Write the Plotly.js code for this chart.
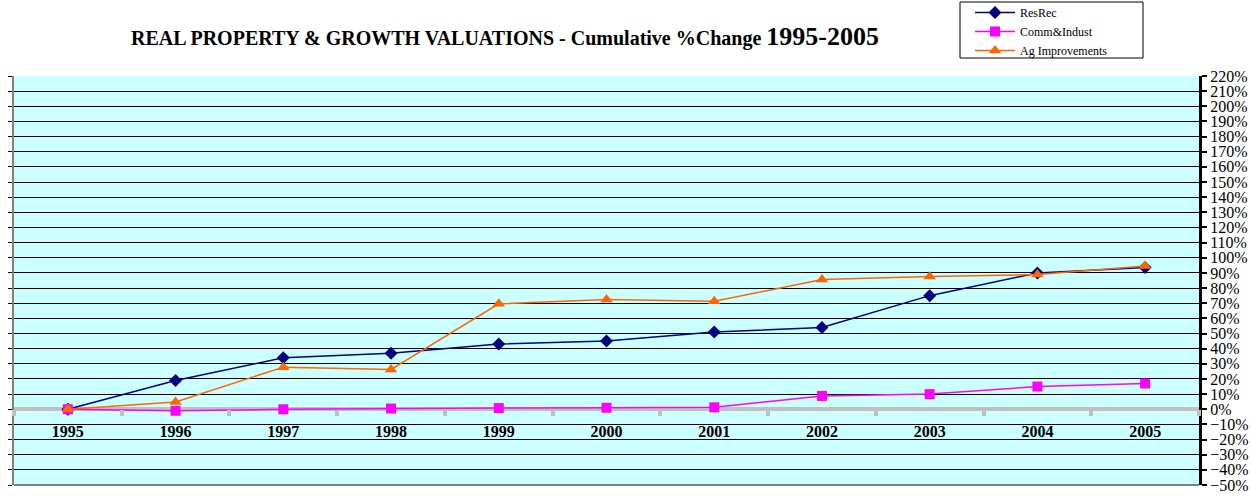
<!DOCTYPE html>
<html><head><meta charset="utf-8">
<script src="https://cdn.plot.ly/plotly-3.0.1.min.js"></script>
<style>html,body{margin:0;padding:0;background:#fff}#chart{width:1251px;height:496px}</style>
</head><body><div id="chart"></div>
<script>
const years = ['1995','1996','1997','1998','1999','2000','2001','2002','2003','2004','2005'];
const resRec = [0, 19, 34, 37, 43, 45, 51, 54, 75, 90, 93.5];
const commIndust = [0, -1, 0, 0.5, 0.8, 1, 1.3, 8.8, 10, 15, 17];
const agImprovements = [0, 4.8, 27.8, 26.3, 69.6, 72.4, 71.3, 85.6, 87.6, 88.9, 94.6];
const seriesNames = ['ResRec', 'Comm&Indust', 'Ag Improvements'];

const serif = "'Liberation Serif', 'Times New Roman', serif";
const px2x = p => (p - 14) / 1185;
const px2y = p => 1 + (76 - p) / 409;

const traces = [
  {x: years, y: resRec, name: seriesNames[0], type: 'scatter', mode: 'lines+markers',
   line: {color: '#000080', width: 1.5}, marker: {symbol: 'diamond', size: 10, color: '#000080'}},
  {x: years, y: commIndust, name: seriesNames[1], type: 'scatter', mode: 'lines+markers',
   line: {color: '#ff00ff', width: 1.5}, marker: {symbol: 'square', size: 10, color: '#ff00ff'}},
  {x: years, y: agImprovements, name: seriesNames[2], type: 'scatter', mode: 'lines+markers',
   line: {color: '#ff6600', width: 1.5}, marker: {symbol: 'triangle-up', size: 11, color: '#ff6600'}},
  {x: [], y: [], yaxis: 'y2', showlegend: false, hoverinfo: 'skip'}
];

const layout = {
  width: 1251, height: 496,
  margin: {l: 14, r: 52, t: 76, b: 11, pad: 0, autoexpand: false},
  paper_bgcolor: '#ffffff', plot_bgcolor: '#ccffff',
  showlegend: true,
  legend: {x: px2x(970), y: px2y(-2), xanchor: 'left', yanchor: 'top', bgcolor: 'rgba(0,0,0,0)',
    borderwidth: 0, font: {family: serif, size: 12, color: '#000'},
    tracegroupgap: 0, itemwidth: 40},
  xaxis: {type: 'category', range: [-0.5, 10.5], anchor: 'free', position: 50/270,
    showgrid: false, showline: false, zeroline: false,
    ticks: 'outside', tickson: 'boundaries', ticklen: 6, tickwidth: 4, tickcolor: '#c0c0c0',
    ticklabelstandoff: 11,
    tickfont: {family: serif, size: 16, color: '#000', weight: 'bold'}},
  yaxis: {range: [-50, 220], side: 'right', dtick: 10, tick0: 0,
    ticksuffix: '%', showgrid: true, gridcolor: '#000000', gridwidth: 1,
    zeroline: true, zerolinecolor: '#c0c0c0', zerolinewidth: 4,
    showline: true, linecolor: '#000000', linewidth: 3,
    ticks: 'outside', ticklen: 5, tickwidth: 2, tickcolor: '#000',
    tickfont: {family: serif, size: 16, color: '#000'}},
  yaxis2: {range: [-50, 220], overlaying: 'y', side: 'left', dtick: 10, tick0: 0,
    showgrid: false, zeroline: false, showticklabels: false,
    showline: true, linecolor: '#808080', linewidth: 2,
    ticks: 'outside', ticklen: 4, tickwidth: 1, tickcolor: '#000'},
  shapes: [
    {type: 'line', xref: 'paper', yref: 'paper', x0: 0, x1: 1, y0: 0, y1: 0,
     line: {color: '#808080', width: 2}},
    {type: 'rect', xref: 'paper', yref: 'paper', x0: px2x(960), x1: px2x(1143), y0: px2y(58), y1: px2y(2),
     fillcolor: '#ffffff', line: {color: '#000000', width: 1}}
  ],
  annotations: [
    {xref: 'paper', yref: 'paper', x: px2x(505), y: px2y(36), xanchor: 'center', yanchor: 'middle',
     showarrow: false,
     text: "<b>REAL PROPERTY &amp; GROWTH VALUATIONS - Cumulative %Change <span style='font-size:26px'>1995-2005</span></b>",
     font: {family: serif, size: 20, color: '#000'}}
  ]
};

Plotly.newPlot('chart', traces, layout, {displayModeBar: false, staticPlot: true});
</script>
</body></html>
